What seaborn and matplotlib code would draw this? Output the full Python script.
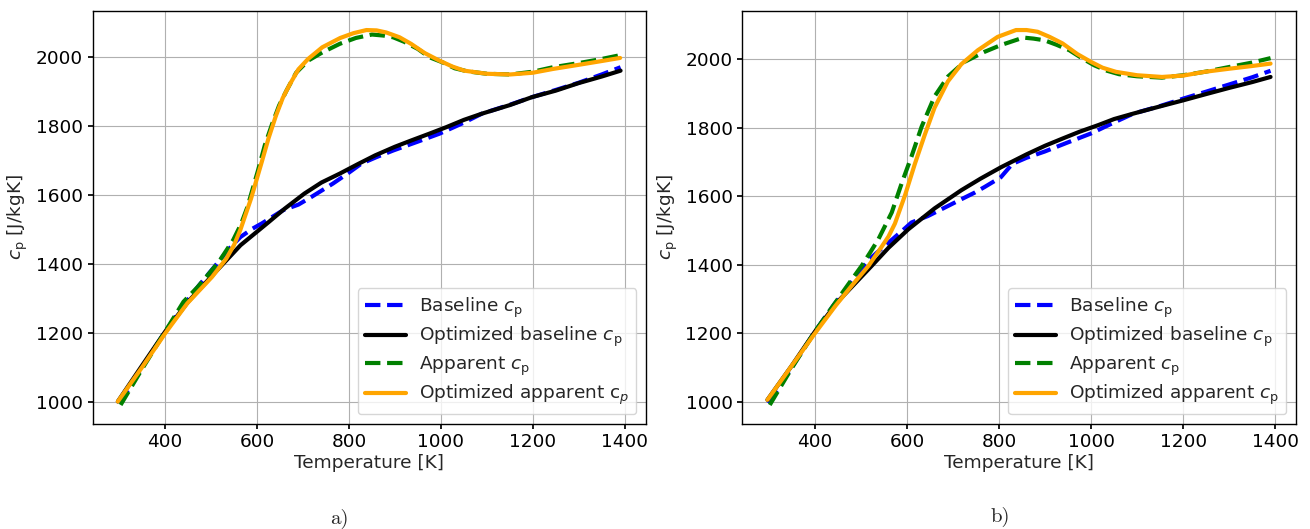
import matplotlib
matplotlib.use("Agg")
import matplotlib.pyplot as plt
import seaborn as sns

# ---- (a) temperature [K] and specific heat [J/kgK] ----
a_base_T = [301, 350, 400, 440, 471, 510, 540, 564, 590, 610, 657, 690, 718, 765, 800, 827,
            860, 896, 950, 997, 1050, 1089, 1150, 1198, 1250, 1300, 1350, 1391]
a_base_cp = [995, 1100, 1203, 1280, 1333, 1396, 1445, 1478, 1502, 1517, 1556, 1572, 1594, 1633,
             1665, 1691, 1710, 1729, 1755, 1778, 1810, 1836, 1862, 1884, 1905, 1926, 1950, 1971]

a_optbase_T = [297, 350, 400, 450, 510, 564, 626, 660, 703, 740, 780, 820, 857, 900, 935, 975,
               1012, 1050, 1089, 1150, 1198, 1250, 1300, 1350, 1391]
a_optbase_cp = [1000, 1105, 1203, 1290, 1377, 1454, 1522, 1560, 1604, 1636, 1662, 1690, 1715,
                1740, 1758, 1778, 1797, 1818, 1836, 1861, 1884, 1903, 1925, 1944, 1961]

a_app_T = [303, 350, 400, 440, 471, 517, 548, 565, 579, 602, 617, 633, 648, 664, 685, 711, 742,
           780, 815, 850, 875, 896, 920, 950, 975, 1004, 1030, 1058, 1100, 1151, 1200, 1244,
           1300, 1350, 1390]
a_app_cp = [990, 1095, 1203, 1290, 1333, 1406, 1469, 1515, 1565, 1671, 1745, 1807, 1860, 1903,
            1955, 1990, 2014, 2039, 2056, 2066, 2063, 2058, 2045, 2024, 2000, 1985, 1968, 1959,
            1952, 1950, 1958, 1971, 1983, 1995, 2006]

a_optapp_T = [297, 350, 400, 448, 502, 533, 550, 564, 587, 610, 625, 641, 656, 672, 690, 711,
              742, 781, 810, 838, 860, 881, 910, 935, 965, 997, 1025, 1051, 1100, 1151, 1200,
              1244, 1300, 1350, 1390]
a_optapp_cp = [1000, 1100, 1198, 1285, 1362, 1415, 1455, 1500, 1590, 1695, 1765, 1830, 1882,
               1923, 1965, 1995, 2029, 2056, 2070, 2079, 2078, 2072, 2058, 2039, 2012, 1990,
               1973, 1961, 1952, 1950, 1955, 1966, 1978, 1989, 1998]

# ---- (b) temperature [K] and specific heat [J/kgK] ----
b_base_T = [299, 350, 400, 440, 473, 517, 560, 590, 610, 646, 689, 720, 747, 768, 804, 829,
            860, 899, 950, 1000, 1050, 1092, 1150, 1201, 1250, 1300, 1350, 1390]
b_base_cp = [995, 1100, 1204, 1280, 1338, 1414, 1464, 1499, 1523, 1542, 1571, 1592, 1610, 1626,
             1655, 1694, 1712, 1730, 1757, 1783, 1815, 1841, 1863, 1885, 1905, 1926, 1947, 1966]

b_optbase_T = [297, 350, 400, 450, 524, 560, 603, 660, 718, 760, 804, 860, 900, 938,
               975, 1015, 1050, 1092, 1150, 1201, 1250, 1300, 1350, 1390]
b_optbase_cp = [1005, 1105, 1204, 1292, 1397, 1449, 1503, 1564, 1617, 1651, 1684, 1722, 1747,
                1768, 1788, 1807, 1825, 1841, 1862, 1880, 1898, 1916, 1933, 1948]

b_app_T = [302, 350, 400, 445, 473, 502, 520, 538, 551, 567, 589, 610, 632, 660, 689, 725,
           768, 804, 853, 875, 899, 925, 953, 980, 1007, 1035, 1061, 1100, 1154,
           1200, 1247, 1300, 1350, 1390]
b_app_cp = [990, 1098, 1204, 1290, 1343, 1397, 1435, 1474, 1509, 1552, 1639, 1716, 1803, 1891,
            1949, 1992, 2021, 2041, 2063, 2060, 2055, 2042, 2026, 2003, 1982,
            1966, 1956, 1950, 1946, 1953, 1963, 1977, 1990, 2003]

b_optapp_T = [297, 350, 400, 445, 480, 517, 545, 560, 574, 596, 617, 639, 660, 689, 718, 754,
              797, 837, 860, 884, 910, 938, 970, 1000, 1025, 1054, 1100, 1154, 1200,
              1247, 1300, 1350, 1390]
b_optapp_cp = [1005, 1105, 1199, 1280, 1338, 1397, 1452, 1482, 1520, 1603, 1693, 1780, 1858,
               1935, 1985, 2026, 2065, 2085, 2085, 2080, 2065, 2046, 2015, 1992,
               1975, 1963, 1953, 1948, 1952, 1963, 1972, 1980, 1987]

panel_labels = ["a)", "b)"]
legend_labels_a = [r"Baseline $c_\mathrm{p}$", r"Optimized baseline $c_\mathrm{p}$",
                   r"Apparent $c_\mathrm{p}$", r"Optimized apparent c$_p$"]
legend_labels_b = [r"Baseline $c_\mathrm{p}$", r"Optimized baseline $c_\mathrm{p}$",
                   r"Apparent $c_\mathrm{p}$", r"Optimized apparent $c_\mathrm{p}$"]

sns.set_theme(style="ticks", rc={
    "axes.edgecolor": "black",
    "axes.linewidth": 1.0,
    "grid.color": "#b0b0b0",
    "grid.linewidth": 0.8,
    "xtick.color": "black",
    "ytick.color": "black",
    "xtick.major.size": 3.5,
    "ytick.major.size": 3.5,
    "font.size": 13,
})
plt.rcParams["font.family"] = ["DejaVu Sans"]

FS = 13.3
W, H = 1310, 529
fig = plt.figure(figsize=(W / 100, H / 100), dpi=100)

def axes_rect(x0, x1, y0, y1):
    return [x0 / W, 1 - y1 / H, (x1 - x0) / W, (y1 - y0) / H]

ax_a = fig.add_axes(axes_rect(92.7, 645.7, 11.3, 423.7))
ax_b = fig.add_axes(axes_rect(742.3, 1295.7, 11.3, 423.7))

panels = [
    (ax_a, [(a_base_T, a_base_cp), (a_optbase_T, a_optbase_cp),
            (a_app_T, a_app_cp), (a_optapp_T, a_optapp_cp)], legend_labels_a),
    (ax_b, [(b_base_T, b_base_cp), (b_optbase_T, b_optbase_cp),
            (b_app_T, b_app_cp), (b_optapp_T, b_optapp_cp)], legend_labels_b),
]
styles = [("blue", "--"), ("black", "-"), ("green", "--"), ("orange", "-")]

for ax, series, labels in panels:
    for (T, cp), (col, ls), lab in zip(series, styles, labels):
        sns.lineplot(x=T, y=cp, ax=ax, color=col, linestyle=ls, linewidth=3,
                     label=lab, sort=False)
    ax.grid(True)
    ax.set_xticks([400, 600, 800, 1000, 1200, 1400])
    ax.set_yticks([1000, 1200, 1400, 1600, 1800, 2000])
    ax.tick_params(labelsize=FS)
    ax.set_xlabel("Temperature [K]", fontsize=FS, labelpad=2)
    ax.set_ylabel(r"$c_\mathrm{p}$ [J/kgK]", fontsize=FS)
    ax.legend(loc="lower right", fontsize=FS, handlelength=2.2, handletextpad=0.7,
              labelspacing=0.28, framealpha=0.8, edgecolor="#cccccc", fancybox=True)

fig.text(339 / W, 1 - 519 / H, panel_labels[0], fontsize=15, family="cmr10",
         ha="center", va="center")
fig.text(1000 / W, 1 - 517 / H, panel_labels[1], fontsize=15, family="cmr10",
         ha="center", va="center")

fig.savefig("out.png", dpi=100)
